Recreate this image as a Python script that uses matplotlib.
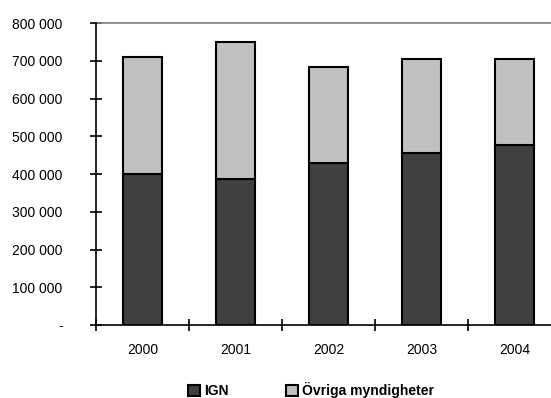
import numpy as np
import matplotlib.pyplot as plt
from matplotlib.ticker import FuncFormatter, FixedLocator
from matplotlib.patches import Patch

plt.rcParams['font.family'] = ['Liberation Sans', 'DejaVu Sans']

years = ['2000', '2001', '2002', '2003', '2004']
ign = [400000, 388000, 429000, 455000, 476000]
ovriga = [310000, 362000, 255000, 250000, 228000]

fig = plt.figure(figsize=(5.51, 3.98), dpi=100)
# plot area extends slightly past the right edge, as in the original
ax = fig.add_axes([96 / 551, 1 - 325 / 398, 465 / 551, 302 / 398])

x = np.arange(len(years))
w = 0.42
ax.bar(x, ign, w, color='#404040', edgecolor='black', linewidth=1.5, zorder=3)
ax.bar(x, ovriga, w, bottom=ign, color='#c0c0c0', edgecolor='black', linewidth=1.5, zorder=3)

ax.set_xlim(-0.5, len(years) - 0.5)
ax.set_ylim(0, 800000)
ax.axhline(800000, color='#808080', lw=1.2, clip_on=False)

for s in ['top', 'right']:
    ax.spines[s].set_visible(False)
for s in ['left', 'bottom']:
    ax.spines[s].set_linewidth(1.2)

ax.yaxis.set_major_locator(FixedLocator(np.arange(0, 800001, 100000)))
ax.yaxis.set_major_formatter(FuncFormatter(
    lambda v, p: '-' if v == 0 else f'{int(v):,}'.replace(',', ' ')))
ax.tick_params(axis='y', direction='inout', length=8, width=1.2, labelsize=10, pad=20)

ax.xaxis.set_major_locator(FixedLocator(np.arange(-0.5, len(years), 1.0)))
ax.xaxis.set_minor_locator(FixedLocator(x))
ax.set_xticklabels([], minor=False)
ax.set_xticklabels(years, minor=True)
ax.tick_params(axis='x', which='major', direction='inout', length=8, width=1.2)
ax.tick_params(axis='x', which='minor', length=0, labelsize=10, pad=13)

handles = [Patch(facecolor='#404040', edgecolor='black', linewidth=1.5, label='IGN'),
           Patch(facecolor='#c0c0c0', edgecolor='black', linewidth=1.5, label='Övriga myndigheter')]
fig.legend(handles=handles, loc='center', bbox_to_anchor=(311 / 551, 1 - 390 / 398), ncol=2,
           frameon=False, prop={'weight': 'bold', 'size': 10}, handlelength=0.85,
           handleheight=0.85, handletextpad=0.3, columnspacing=4.1, borderpad=0)

fig.savefig('out.png', dpi=100)
